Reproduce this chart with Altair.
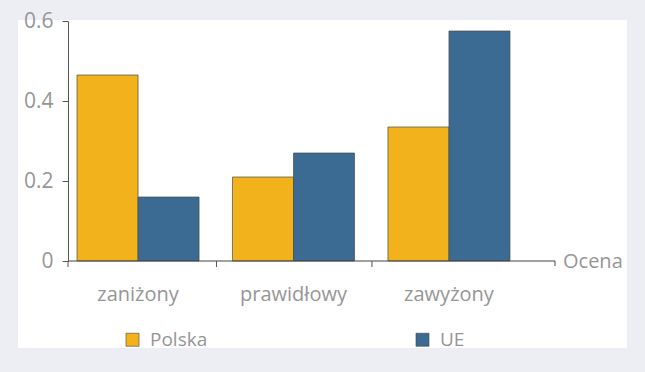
import altair as alt
import pandas as pd

categories = ["zaniżony", "prawidłowy", "zawyżony"]
polska = [0.465, 0.21, 0.335]
ue = [0.16, 0.27, 0.575]
series = ["Polska", "UE"]
colors = ["#f2b21c", "#3b6a92"]
y_ticks = [0, 0.2, 0.4, 0.6]
tick_cats = categories[1:]

rows = []
for c, p, u in zip(categories, polska, ue):
    rows.append({"cat": c, "series": "Polska", "value": p})
    rows.append({"cat": c, "series": "UE", "value": u})
df = pd.DataFrame(rows)
one = pd.DataFrame([{"k": 0}])
ticks_df = pd.DataFrame({"cat": tick_cats})

FONT = "Open Sans"
GRAY = "#969696"
xscale = alt.Scale(domain=categories, range=[0, 451], paddingInner=0.215, paddingOuter=0.058)

panel = alt.Chart(one).mark_rect(color="white").encode(
    x=alt.value(-50), x2=alt.value(559), y=alt.value(-1), y2=alt.value(327)
)

bars = alt.Chart(df).mark_bar(stroke="#4a4a4a", strokeWidth=0.7).encode(
    x=alt.X("cat:N", sort=categories, title=None, scale=xscale,
            axis=alt.Axis(domain=False, ticks=False, labelAngle=0, labelPadding=23,
                          labelFontSize=20, labelColor=GRAY, labelFont=FONT, zindex=1)),
    xOffset=alt.XOffset("series:N", sort=series),
    y=alt.Y("value:Q", title=None,
            scale=alt.Scale(domain=[0, 0.6]),
            axis=alt.Axis(values=y_ticks, grid=False, domainColor="#555",
                          tickColor="#555", tickSize=6, labelPadding=9,
                          labelFontSize=21, labelColor=GRAY, labelFont=FONT,
                          labelFlush=False, zindex=1,
                          labelExpr="datum.value == 0 ? '0' : format(datum.value, '.1f')")),
    color=alt.Color("series:N", sort=series,
                    scale=alt.Scale(domain=series, range=colors),
                    legend=alt.Legend(title=None, orient="none", legendX=55, legendY=309,
                                      direction="horizontal", columns=2, columnPadding=205,
                                      symbolType="square", symbolSize=170,
                                      symbolStrokeColor="#444", symbolStrokeWidth=0.6,
                                      labelFontSize=19, labelColor=GRAY, labelFont=FONT,
                                      labelOffset=8)),
)

x_ticks = alt.Chart(ticks_df).mark_rule(color="#555", strokeWidth=1, xOffset=-16).encode(
    x=alt.X("cat:N", sort=categories, scale=xscale, bandPosition=0),
    y=alt.value(240), y2=alt.value(246),
)

axis_line = alt.Chart(one).mark_rule(color="#444", strokeWidth=1.2).encode(
    x=alt.value(0), x2=alt.value(487), y=alt.value(240)
)
axis_end = alt.Chart(one).mark_rule(color="#444", strokeWidth=1).encode(
    x=alt.value(487), y=alt.value(240), y2=alt.value(245)
)
axis_start = alt.Chart(one).mark_rule(color="#555", strokeWidth=1).encode(
    x=alt.value(0), y=alt.value(240), y2=alt.value(246)
)
ocena = alt.Chart(one).mark_text(text="Ocena", align="left", baseline="middle",
                                 fontSize=20, color=GRAY, font=FONT).encode(
    x=alt.value(495), y=alt.value(241)
)

chart = alt.layer(panel, bars, x_ticks, axis_line, axis_end, axis_start, ocena).properties(
    width=577, height=240,
    background="#eceef3",
    autosize=alt.AutoSizeParams(type="none"),
    padding={"left": 68, "top": 21, "right": 0, "bottom": 111},
).configure_view(stroke=None)

chart.save("out.html", embed_options={"renderer": "svg", "actions": False})
